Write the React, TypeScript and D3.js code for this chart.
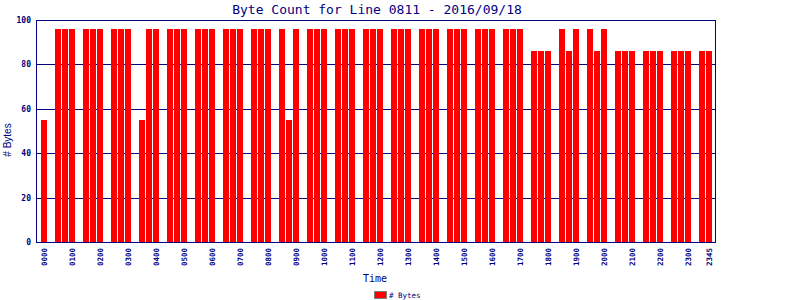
import React from "react";
import * as d3 from "d3";

const TITLE = "Byte Count for Line 0811 - 2016/09/18";
const Y_LABEL = "# Bytes";
const X_LABEL = "Time";
const SERIES_NAME = "# Bytes";

// 15-minute slots 0000..2345
const categories: string[] = d3.range(96).map((i) => {
  const h = Math.floor(i / 4);
  const m = (i % 4) * 15;
  return String(h).padStart(2, "0") + String(m).padStart(2, "0");
});

// byte counts per slot (0 = no data)
const values: number[] = [
  55, 0, 96, 96, // 00
  96, 0, 96, 96, // 01
  96, 0, 96, 96, // 02
  96, 0, 55, 96, // 03
  96, 0, 96, 96, // 04
  96, 0, 96, 96, // 05
  96, 0, 96, 96, // 06
  96, 0, 96, 96, // 07
  96, 0, 96, 55, // 08
  96, 0, 96, 96, // 09
  96, 0, 96, 96, // 10
  96, 0, 96, 96, // 11
  96, 0, 96, 96, // 12
  96, 0, 96, 96, // 13
  96, 0, 96, 96, // 14
  96, 0, 96, 96, // 15
  96, 0, 96, 96, // 16
  96, 0, 86, 86, // 17
  86, 0, 96, 86, // 18
  96, 0, 96, 86, // 19
  96, 0, 86, 86, // 20
  86, 0, 86, 86, // 21
  86, 0, 86, 86, // 22
  86, 0, 86, 86, // 23
];

const tickLabels: string[] = [
  "0000", "0100", "0200", "0300", "0400", "0500", "0600", "0700", "0800",
  "0900", "1000", "1100", "1200", "1300", "1400", "1500", "1600", "1700",
  "1800", "1900", "2000", "2100", "2200", "2300", "2345",
];

const yTicks: number[] = [0, 20, 40, 60, 80, 100];

const NAVY = "#000080";
const RED = "#ff0000";
const MONO = "'DejaVu Sans Mono', monospace";

export default function App() {
  const W = 800;
  const H = 300;
  const left = 36;
  const right = 715;
  const top = 20;
  const bottom = 242;

  const x = d3
    .scaleBand<string>()
    .domain(categories)
    .range([40.5, 712.5])
    .paddingInner(1 / 7)
    .paddingOuter(1 / 14);
  const y = d3.scaleLinear().domain([0, 100]).range([bottom, top]);

  return (
    <svg
      width={W}
      height={H}
      style={{ position: "absolute", left: 0, top: 0, background: "#fff" }}
    >
      <rect x={0} y={0} width={W} height={H} fill="#fff" />
      <text
        x={377}
        y={14}
        textAnchor="middle"
        fontFamily={MONO}
        fontSize={13}
        fill={NAVY}
      >
        {TITLE}
      </text>

      {/* grid lines */}
      {yTicks.map((t) => (
        <line
          key={"g" + t}
          x1={left}
          x2={right}
          y1={Math.round(y(t)) + 0.5}
          y2={Math.round(y(t)) + 0.5}
          stroke={NAVY}
          strokeWidth={1}
        />
      ))}

      {/* bars */}
      {categories.map((c, i) =>
        values[i] > 0 ? (
          <rect
            key={c}
            x={Math.round(x(c) as number)}
            y={Math.round(y(values[i]))}
            width={x.bandwidth()}
            height={Math.round(y(0)) - Math.round(y(values[i]))}
            fill={RED}
            shapeRendering="crispEdges"
          />
        ) : null
      )}

      {/* frame */}
      <line x1={left + 0.5} x2={left + 0.5} y1={top} y2={bottom + 1} stroke={NAVY} />
      <line x1={right + 0.5} x2={right + 0.5} y1={top} y2={bottom + 1} stroke={NAVY} />
      <line x1={left} x2={right + 1} y1={bottom + 0.5} y2={bottom + 0.5} stroke={NAVY} />
      <line x1={left} x2={right + 1} y1={top + 0.5} y2={top + 0.5} stroke={NAVY} />

      {/* y tick labels */}
      {yTicks.map((t) => (
        <text
          key={"yl" + t}
          x={31}
          y={Math.round(y(t)) + 3}
          textAnchor="end"
          fontFamily={MONO}
          fontSize={8}
          fontWeight="bold"
          fill={NAVY}
        >
          {t}
        </text>
      ))}

      {/* x tick labels */}
      {tickLabels.map((lab) => {
        const cx = (x(lab) as number) + x.bandwidth() / 2;
        return (
          <text
            key={"xl" + lab}
            transform={`translate(${cx},248) rotate(-90)`}
            textAnchor="end"
            dy="0.35em"
            fontFamily={MONO}
            fontSize={7.5}
            fontWeight="bold"
            fill={NAVY}
          >
            {lab}
          </text>
        );
      })}

      {/* axis titles */}
      <text
        transform={`translate(11,140) rotate(-90)`}
        textAnchor="middle"
        fontFamily="'Liberation Sans', Arial, sans-serif"
        fontSize={10}
        fill={NAVY}
      >
        {Y_LABEL}
      </text>
      <text
        x={375}
        y={282}
        textAnchor="middle"
        fontFamily={MONO}
        fontSize={10}
        fill={NAVY}
      >
        {X_LABEL}
      </text>

      {/* legend */}
      <rect x={374.5} y={291.5} width={12} height={7} fill={RED} stroke="#808080" />
      <text x={389} y={298} fontFamily={MONO} fontSize={7.5} fill={NAVY}>
        {SERIES_NAME}
      </text>
    </svg>
  );
}
